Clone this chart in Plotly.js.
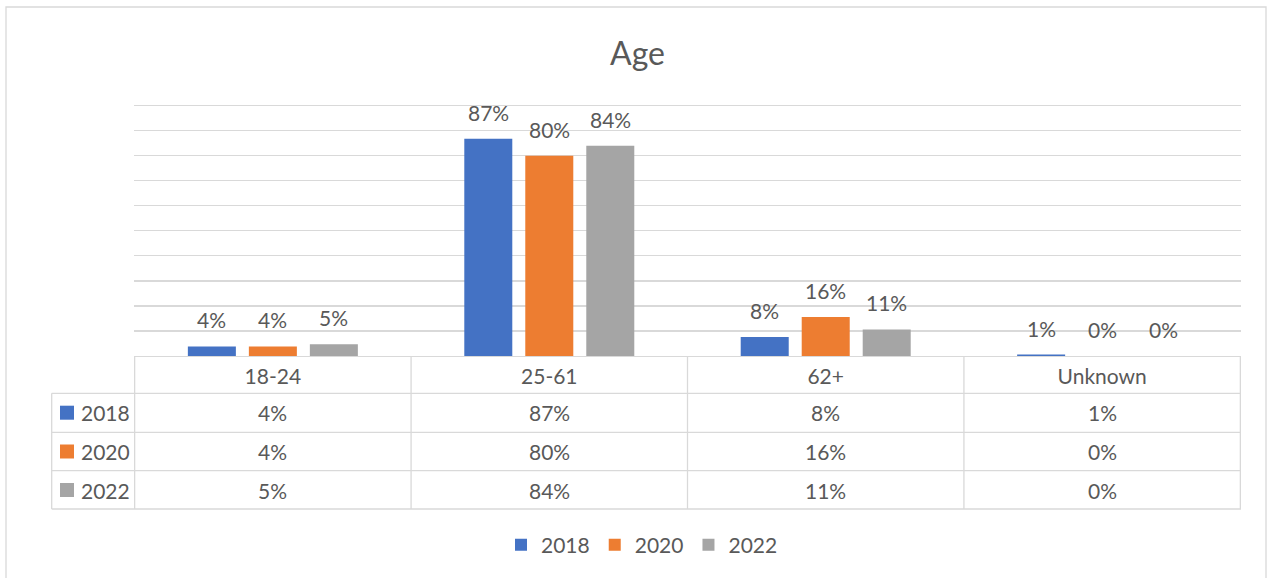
<!DOCTYPE html>
<html>
<head>
<meta charset="utf-8">
<script src="https://cdn.plot.ly/plotly-3.0.1.min.js"></script>
<style>
  html, body { margin: 0; padding: 0; background: #fff; }
  #chart { width: 1270px; height: 578px; }
</style>
</head>
<body>
<div id="chart"></div>
<script>
const categories = ['18-24', '25-61', '62+', 'Unknown'];
const years = ['2018', '2020', '2022'];
const v2018 = [3.8, 86.7, 7.6, 0.6];
const v2020 = [3.8, 79.9, 15.6, 0.0];
const v2022 = [4.7, 83.9, 10.6, 0.0];
const colors = ['#4472C4', '#ED7D31', '#A5A5A5'];

const series = [v2018, v2020, v2022];
const TXT = '#595959';
const GRID = '#d9d9d9';
const FONT = 'Lato, "Open Sans", sans-serif';
const BARGAP = 0.338;

// plot box in pixels, used to place the table rows in paper units
const L = 134, R = 29, T = 103, B = 222;
const W = 1270 - L - R, H = 578 - T - B;
const px = p => (p - L) / W;
const py = p => (T + H - p) / H;

const pct = v => Math.round(v) + '%';

const traces = series.map((vals, j) => ({
    type: 'bar',
    name: years[j],
    x: categories,
    y: vals,
    marker: { color: colors[j] },
    hoverinfo: 'none'
}));

// data labels above each bar
const slot = (1 - BARGAP) / years.length;
const annotations = [];
series.forEach((vals, j) => {
    vals.forEach((v, i) => {
        annotations.push({
            xref: 'x', yref: 'y',
            x: i + (j - (years.length - 1) / 2) * slot,
            y: v,
            text: pct(v),
            showarrow: false,
            yanchor: 'bottom',
            yshift: 12,
            font: { family: FONT, size: 21, color: TXT }
        });
    });
});

// data table below the axis
const rowLines = [393.3, 432.3, 470.7, 509].map(py);
const rowMid = [412.7, 451.5, 490].map(py);
const leftX = px(51.7);
const shapes = [];

rowLines.forEach(y => shapes.push({
    type: 'line', xref: 'paper', yref: 'paper',
    x0: leftX, x1: 1, y0: y, y1: y,
    line: { color: GRID, width: 1.3 }
}));
for (let i = 0; i <= categories.length; i++) {
    shapes.push({
        type: 'line', xref: 'x', yref: 'paper',
        x0: i - 0.5, x1: i - 0.5, y0: 0, y1: rowLines[rowLines.length - 1],
        line: { color: GRID, width: 1.3 }
    });
}
shapes.push({
    type: 'line', xref: 'paper', yref: 'paper',
    x0: leftX, x1: leftX, y0: rowLines[0], y1: rowLines[rowLines.length - 1],
    line: { color: GRID, width: 1.3 }
});

const half = 7 / H;
series.forEach((vals, j) => {
    shapes.push({
        type: 'rect', xref: 'paper', yref: 'paper',
        x0: px(60), x1: px(74),
        y0: rowMid[j] - half, y1: rowMid[j] + half,
        fillcolor: colors[j], line: { width: 0 }
    });
    annotations.push({
        xref: 'paper', yref: 'paper',
        x: px(79.3), y: rowMid[j],
        xanchor: 'left', yanchor: 'middle',
        text: years[j], showarrow: false,
        font: { family: FONT, size: 21, color: TXT }
    });
    vals.forEach((v, i) => {
        annotations.push({
            xref: 'x', yref: 'paper',
            x: i, y: rowMid[j],
            xanchor: 'center', yanchor: 'middle',
            text: pct(v), showarrow: false,
            font: { family: FONT, size: 21, color: TXT }
        });
    });
});

// outer chart border
shapes.push({
    type: 'rect', xref: 'paper', yref: 'paper',
    x0: px(6), x1: px(1266), y0: py(7), y1: py(600),
    line: { color: GRID, width: 1.3 }
});

const layout = {
    width: 1270,
    height: 578,
    margin: { l: L, r: R, t: T, b: B },
    paper_bgcolor: '#fff',
    plot_bgcolor: '#fff',
    font: { family: FONT, color: TXT, size: 21 },
    title: {
        text: 'Age',
        x: 0.502, xanchor: 'center',
        y: 0.9066, yanchor: 'middle',
        font: { family: FONT, size: 32, color: TXT }
    },
    barmode: 'group',
    bargap: BARGAP,
    bargroupgap: 0.213,
    xaxis: {
        type: 'category',
        categoryarray: categories,
        showgrid: false,
        showline: true,
        linecolor: GRID,
        linewidth: 1.3,
        ticks: '',
        ticklabelstandoff: 1,
        tickfont: { family: FONT, size: 21, color: TXT },
        fixedrange: true
    },
    yaxis: {
        range: [0, 101],
        tickvals: [10, 20, 30, 40, 50, 60, 70, 80, 90, 100],
        showgrid: true,
        gridcolor: GRID,
        gridwidth: 1.3,
        zeroline: false,
        showticklabels: false,
        ticks: '',
        fixedrange: true
    },
    showlegend: true,
    legend: {
        orientation: 'h',
        x: px(642), xanchor: 'center',
        y: py(545), yanchor: 'middle',
        font: { family: FONT, size: 21, color: TXT },
        traceorder: 'normal'
    },
    shapes: shapes,
    annotations: annotations
};

Plotly.newPlot('chart', traces, layout, { displayModeBar: false, staticPlot: true });
</script>
</body>
</html>
